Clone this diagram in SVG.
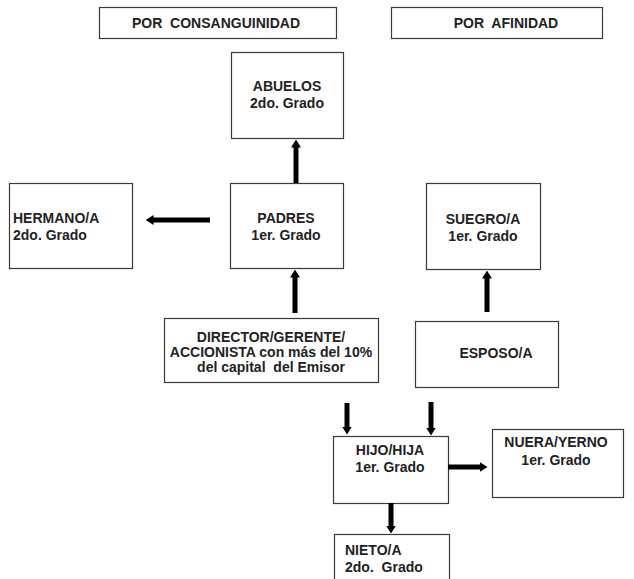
<svg xmlns="http://www.w3.org/2000/svg" width="634" height="579" viewBox="0 0 634 579">
<style>
.box{fill:#fff;stroke:#3a3a3a;stroke-width:1.2}
.t{font-family:"Liberation Sans",Arial,sans-serif;font-weight:bold;font-size:14px;fill:#222;white-space:pre}
.c{text-anchor:middle}
.arr{stroke:#000;stroke-width:5;fill:none;marker-end:url(#ah)}
</style>
<defs>
<marker id="ah" markerUnits="userSpaceOnUse" viewBox="0 0 8 10" markerWidth="8" markerHeight="10" refX="0.5" refY="5" orient="auto">
<path d="M0,0 L8,5 L0,10 z" fill="#000"/>
</marker>
</defs>
<rect width="634" height="579" fill="#fff"/>
<g id="hdr-consanguinidad"><rect class="box" x="99.5" y="7.5" width="237" height="31"/><text class="t c" x="216" y="28" xml:space="preserve">POR  CONSANGUINIDAD</text></g>
<g id="hdr-afinidad"><rect class="box" x="391.5" y="7.5" width="211" height="31"/><text class="t c" x="506" y="28" xml:space="preserve">POR  AFINIDAD</text></g>
<g id="abuelos"><rect class="box" x="231.5" y="52.5" width="112" height="86"/><text class="t c" x="287" y="91">ABUELOS</text><text class="t c" x="287" y="108">2do. Grado</text></g>
<g id="hermano"><rect class="box" x="9.5" y="183.5" width="123" height="85"/><text class="t" x="13" y="223">HERMANO/A</text><text class="t" x="13" y="240">2do. Grado</text></g>
<g id="padres"><rect class="box" x="230.5" y="183.5" width="113" height="85"/><text class="t c" x="286" y="223">PADRES</text><text class="t c" x="286" y="240">1er. Grado</text></g>
<g id="suegro"><rect class="box" x="426.5" y="183.5" width="114" height="86"/><text class="t c" x="483" y="224">SUEGRO/A</text><text class="t c" x="483" y="241">1er. Grado</text></g>
<g id="director"><rect class="box" x="164.5" y="318.5" width="214" height="64"/><text class="t c" x="271" y="342">DIRECTOR/GERENTE/</text><text class="t c" x="271" y="357">ACCIONISTA con más del 10%</text><text class="t c" x="271" y="372" xml:space="preserve">del capital  del Emisor</text></g>
<g id="esposo"><rect class="box" x="415.5" y="321.5" width="143" height="66"/><text class="t c" x="496" y="358">ESPOSO/A</text></g>
<g id="hijo"><rect class="box" x="333.5" y="436.5" width="115" height="67"/><text class="t c" x="390" y="455">HIJO/HIJA</text><text class="t c" x="390" y="472">1er. Grado</text></g>
<g id="nuera"><rect class="box" x="492.5" y="429.5" width="131" height="68"/><text class="t c" x="556" y="447">NUERA/YERNO</text><text class="t c" x="556" y="465">1er. Grado</text></g>
<g id="nieto"><rect class="box" x="334.5" y="534.5" width="115" height="60"/><text class="t" x="345" y="555">NIETO/A</text><text class="t" x="345" y="572" xml:space="preserve">2do.  Grado</text></g>
<g id="connectors">
<line class="arr" x1="296" y1="183" x2="296" y2="147"/>
<line class="arr" x1="210" y1="220" x2="153" y2="220"/>
<line class="arr" x1="295" y1="313" x2="295" y2="277"/>
<line class="arr" x1="487" y1="312" x2="487" y2="278"/>
<line class="arr" x1="347" y1="403" x2="347" y2="427"/>
<line class="arr" x1="431" y1="402" x2="431" y2="428"/>
<line class="arr" x1="448" y1="467" x2="480" y2="467"/>
<line class="arr" x1="391" y1="503" x2="391" y2="526"/>
</g>
</svg>
